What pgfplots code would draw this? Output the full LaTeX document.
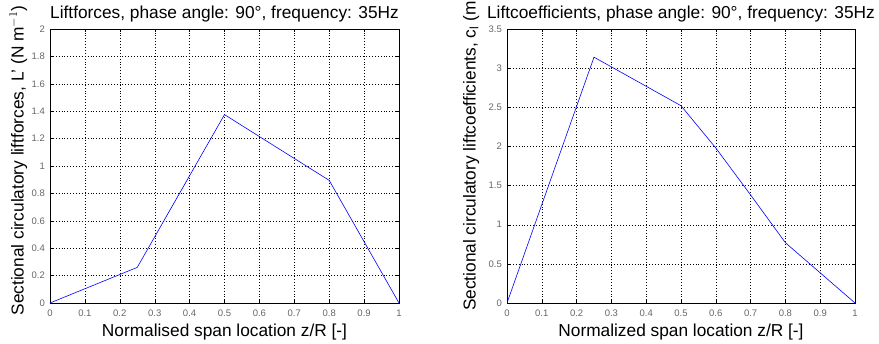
\documentclass[border=0pt]{standalone}
\usepackage{pgfplots}
\pgfplotsset{compat=1.18}
\usepackage{fontspec}
\setmainfont{Liberation Sans}
\pgfplotsset{
  matlab/.style={
    scale only axis,
    xmin=0, xmax=1,
    xtick={0,0.1,0.2,0.3,0.4,0.5,0.6,0.7,0.8,0.9,1},
    grid=major,
    grid style={dash pattern=on 0.7pt off 2.2pt, black, line width=0.4pt},
    major tick length=3pt,
    tick align=inside,
    tick style={black, line width=0.4pt},
    axis line style={black, line width=0.5pt},
    /pgf/number format/assume math mode=true,
    /pgf/number format/fixed,
    ticklabel style={font=\fontsize{9.5}{10}\selectfont, text=black!60, inner sep=0pt},
    xticklabel style={anchor=base, yshift=-13.5pt},
    yticklabel style={anchor=east, xshift=-5pt},
    title style={at={(axis description cs:0.5,1)}, anchor=base, yshift=4pt, font=\fontsize{17.3}{19}\selectfont},
    xlabel style={at={(axis description cs:0.5,0)}, anchor=base, yshift=-33.5pt, font=\fontsize{17.3}{19}\selectfont},
    ylabel style={anchor=base, font=\fontsize{17.3}{19}\selectfont},
  }
}
\begin{document}
\begin{tikzpicture}[x=1pt,y=1pt]
\begin{axis}[matlab,
  at={(50pt,41pt)}, anchor=south west,
  width=349pt, height=274pt,
  ymin=0, ymax=2,
  ytick={0,0.2,0.4,0.6,0.8,1,1.2,1.4,1.6,1.8,2},
  title={Liftforces, phase angle: 90°, frequency: 35Hz},
  xlabel={Normalised span location z/R [-]},
  ylabel={Sectional circulatory liftforces, L' (N m$^{-1}$)},
  ylabel style={at={(axis description cs:-0.0759,0.52)}},
]
\addplot[blue, line width=0.6pt] coordinates {
  (0,0) (0.25,0.26) (0.5,1.375) (0.8,0.895) (1,0)
};
\end{axis}
\begin{axis}[matlab,
  at={(507pt,41pt)}, anchor=south west,
  width=348pt, height=274pt,
  ymin=0, ymax=3.5,
  ytick={0,0.5,1,1.5,2,2.5,3,3.5},
  title={Liftcoefficients, phase angle: 90°, frequency: 35Hz},
  xlabel={Normalized span location z/R [-]},
  ylabel={Sectional circulatory liftcoefficients, c$_\mathrm{l}$ (m$^{-1}$)},
  ylabel style={at={(axis description cs:-0.0905,0.575)}},
]
\addplot[blue, line width=0.6pt] coordinates {
  (0,0) (0.25,3.14) (0.5,2.52) (0.6,1.98) (0.7,1.38) (0.8,0.77) (1,0)
};
\end{axis}
\pgfresetboundingbox
\useasboundingbox (0pt,0pt) rectangle (879pt,344pt);
\end{tikzpicture}
\end{document}
